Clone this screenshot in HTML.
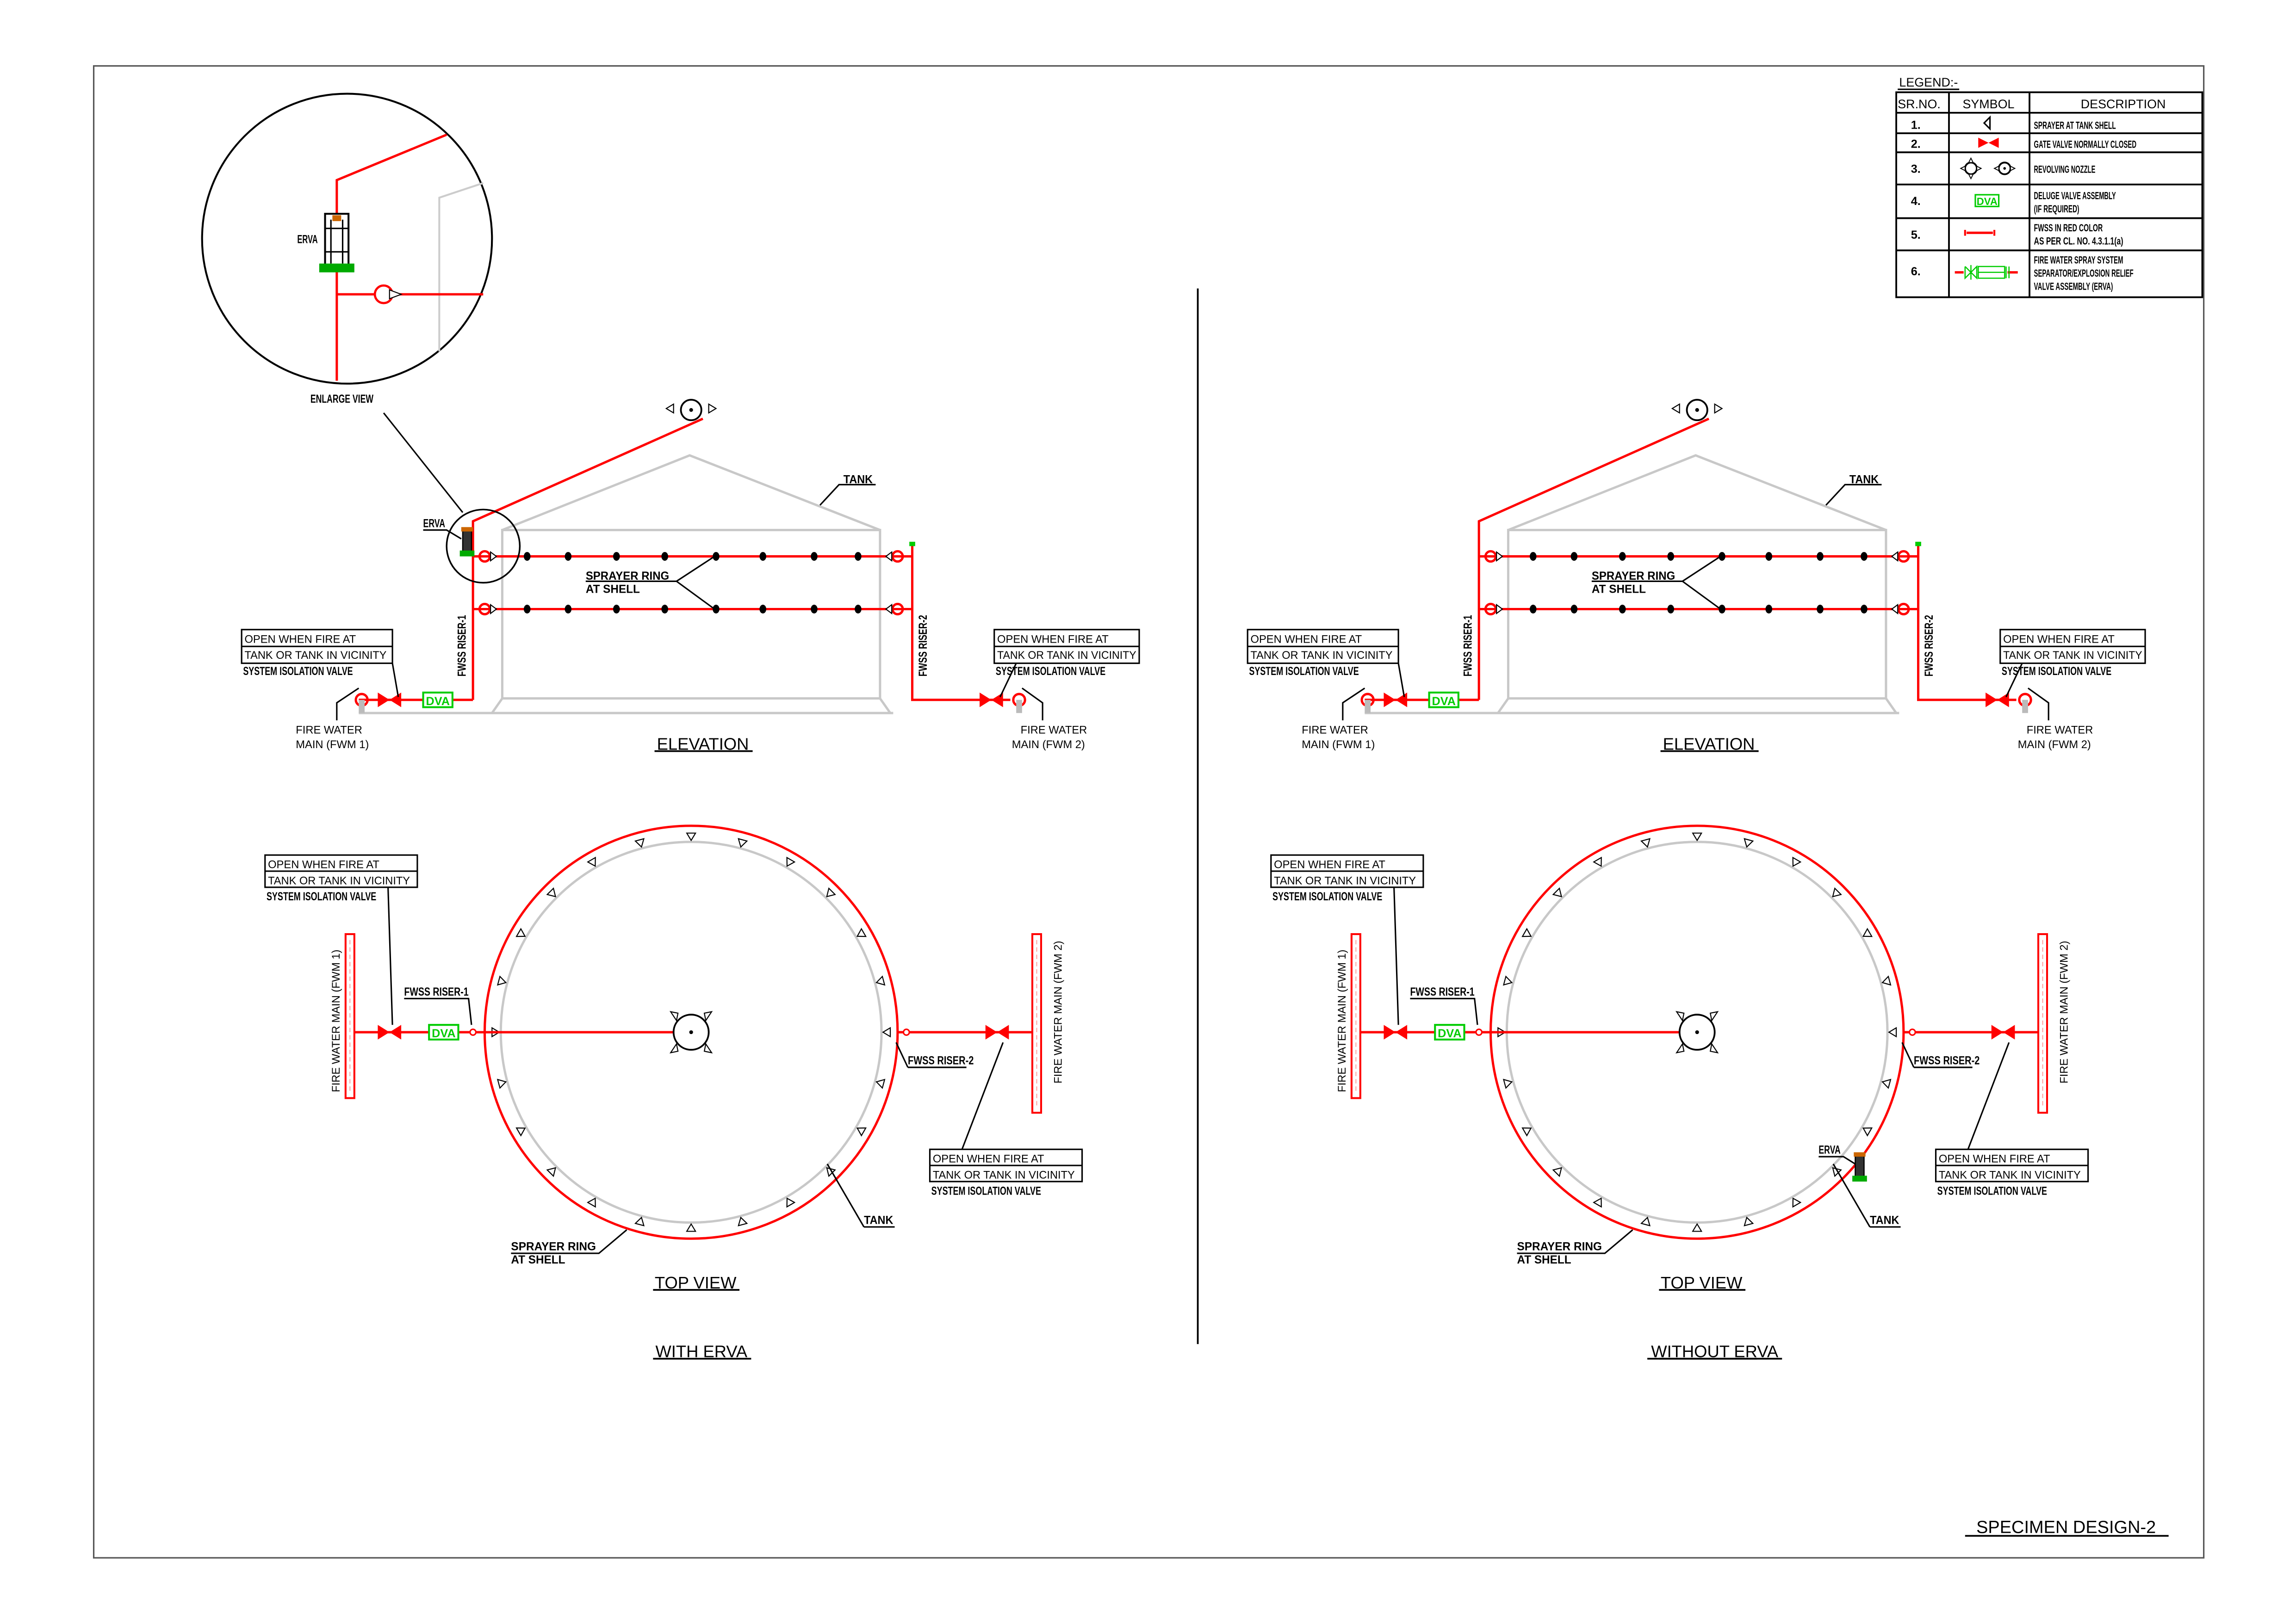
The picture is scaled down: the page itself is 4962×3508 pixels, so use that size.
<!DOCTYPE html>
<html><head><meta charset="utf-8"><style>
html,body{margin:0;padding:0;background:#fff}
svg{display:block}
text{font-family:"Liberation Sans",sans-serif;fill:#000}
.b{font-weight:bold;font-size:8px}
.n{font-size:7.5px}
.l{font-weight:bold;font-size:7px}
</style></head><body>
<svg width="4962" height="3508" viewBox="0 0 1568 1108.5" xmlns="http://www.w3.org/2000/svg">
<defs>
<g id="valve"><path d="M-8,-5 L8,5 L8,-5 L-8,5 Z" fill="#f00"/></g>
<g id="dva"><rect x="-10" y="-5" width="20" height="10" fill="#fff" stroke="#0c0" stroke-width="1.3"/><text x="0" y="3.5" text-anchor="middle" style="font-size:8px;fill:#0c0;font-weight:bold">DVA</text></g>
<g id="tri"><path d="M608,702 l-5,3 l5,3 z" fill="#fff" stroke="#000" stroke-width="0.7"/></g>
<g id="erva"><rect x="-3" y="-9" width="6" height="18" fill="#333" stroke="#000" stroke-width="0.8"/><rect x="-4" y="-10" width="8" height="3" fill="#c60"/><rect x="-5" y="6" width="10" height="4" fill="#0a0"/></g>
<g id="elev">
 <g fill="none" stroke="#c8c8c8" stroke-width="1.6">
  <path d="M343,362 L471,311 L601,362"/>
  <rect x="343" y="362" width="258" height="115"/>
  <path d="M343,477 L336,487 M601,477 L608,487 M245,487 L610,487"/>
 </g>
 <g stroke="#f00" stroke-width="1.6" fill="none">
  <path d="M323,380 H623 M323,416 H623"/>
  <path d="M323,478 V356 L480,286"/>
  <path d="M623,372 V478 H690 M245,478 H323"/>
  <circle cx="331" cy="380" r="3.5"/><circle cx="331" cy="416" r="3.5"/>
  <circle cx="613" cy="380" r="3.5"/><circle cx="613" cy="416" r="3.5"/>
  <circle cx="247" cy="478" r="4"/><circle cx="696" cy="478" r="4"/>
 </g>
 <path d="M335,377 l4,3 l-4,3z M335,413 l4,3 l-4,3z M609,377 l-4,3 l4,3z M609,413 l-4,3 l4,3z" fill="#fff" stroke="#000" stroke-width="0.7"/>
 <rect x="245" y="478" width="4" height="9" fill="#bbb"/><rect x="694" y="478" width="4" height="9" fill="#bbb"/>
 <rect x="621" y="370" width="4" height="3" fill="#0c0"/>
 <g fill="#000">
  <ellipse cx="360" cy="380" rx="2.3" ry="3"/><ellipse cx="388" cy="380" rx="2.3" ry="3"/><ellipse cx="421" cy="380" rx="2.3" ry="3"/><ellipse cx="454" cy="380" rx="2.3" ry="3"/><ellipse cx="489" cy="380" rx="2.3" ry="3"/><ellipse cx="521" cy="380" rx="2.3" ry="3"/><ellipse cx="556" cy="380" rx="2.3" ry="3"/><ellipse cx="586" cy="380" rx="2.3" ry="3"/>
  <ellipse cx="360" cy="416" rx="2.3" ry="3"/><ellipse cx="388" cy="416" rx="2.3" ry="3"/><ellipse cx="421" cy="416" rx="2.3" ry="3"/><ellipse cx="454" cy="416" rx="2.3" ry="3"/><ellipse cx="489" cy="416" rx="2.3" ry="3"/><ellipse cx="521" cy="416" rx="2.3" ry="3"/><ellipse cx="556" cy="416" rx="2.3" ry="3"/><ellipse cx="586" cy="416" rx="2.3" ry="3"/>
 </g>
 <use href="#valve" x="266" y="478"/><use href="#valve" x="677" y="478"/><use href="#dva" x="299" y="478"/>
 <circle cx="472" cy="280" r="7" fill="#fff" stroke="#000" stroke-width="1.2"/><circle cx="472" cy="280" r="1.3"/>
 <path d="M455,279 l5,-3 v6z M489,279 l-5,-3 v6z" fill="#fff" stroke="#000" stroke-width="0.7"/>
 <g fill="none" stroke="#000" stroke-width="1">
  <rect x="165" y="430" width="103" height="23"/><path d="M165,441.5 H268"/>
  <rect x="679" y="430" width="99" height="23"/><path d="M679,441.5 H778"/>
  <path d="M268,453 L272,476 M694,453 L683,476"/>
  <path d="M230,492 V480 L245,470 M712,492 V480 L698,470"/>
  <path d="M560,345 L573,331 H598"/>
  <path d="M400,397 H462 L488,380 M462,397 L488,416"/>
  <path d="M447,513 H514" stroke-width="1.2"/>
 </g>
</g>
<g id="top">
 <circle cx="472" cy="705" r="130" fill="none" stroke="#c8c8c8" stroke-width="1.6"/>
 <circle cx="472" cy="705" r="141" fill="none" stroke="#f00" stroke-width="1.6"/>
 <use href="#tri" transform="rotate(0 472 705)"/><use href="#tri" transform="rotate(15 472 705)"/><use href="#tri" transform="rotate(30 472 705)"/><use href="#tri" transform="rotate(45 472 705)"/><use href="#tri" transform="rotate(60 472 705)"/><use href="#tri" transform="rotate(75 472 705)"/><use href="#tri" transform="rotate(90 472 705)"/><use href="#tri" transform="rotate(105 472 705)"/><use href="#tri" transform="rotate(120 472 705)"/><use href="#tri" transform="rotate(135 472 705)"/><use href="#tri" transform="rotate(150 472 705)"/><use href="#tri" transform="rotate(165 472 705)"/><use href="#tri" transform="rotate(180 472 705)"/><use href="#tri" transform="rotate(195 472 705)"/><use href="#tri" transform="rotate(210 472 705)"/><use href="#tri" transform="rotate(225 472 705)"/><use href="#tri" transform="rotate(240 472 705)"/><use href="#tri" transform="rotate(255 472 705)"/><use href="#tri" transform="rotate(270 472 705)"/><use href="#tri" transform="rotate(285 472 705)"/><use href="#tri" transform="rotate(300 472 705)"/><use href="#tri" transform="rotate(315 472 705)"/><use href="#tri" transform="rotate(330 472 705)"/><use href="#tri" transform="rotate(345 472 705)"/>
 <path d="M239,705 H472 M613,705 H708" stroke="#f00" stroke-width="1.6"/>
 <circle cx="323" cy="705" r="2" fill="#fff" stroke="#f00"/><circle cx="619" cy="705" r="2" fill="#fff" stroke="#f00"/>
 <rect x="236" y="638" width="6" height="112" fill="#fff" stroke="#f00" stroke-width="1.3"/>
 <rect x="705" y="638" width="6" height="122" fill="#fff" stroke="#f00" stroke-width="1.3"/>
 <path d="M239,642 V746 M708,642 V756" stroke="#f99" stroke-width="0.6" stroke-dasharray="3,2"/>
 <use href="#valve" x="266" y="705"/><use href="#valve" x="681" y="705"/><use href="#dva" x="303" y="705"/>
 <circle cx="472" cy="705" r="12" fill="#fff" stroke="#000" stroke-width="1.2"/><circle cx="472" cy="705" r="1.3"/>
 <path d="M458,691 l5,1 l-1,5z M486,691 l-5,1 l1,5z M458,719 l5,-1 l-1,-5z M486,719 l-5,-1 l1,-5z" fill="#fff" stroke="#000" stroke-width="0.7"/>
 <g fill="none" stroke="#000" stroke-width="1">
  <rect x="181" y="584" width="104" height="22"/><path d="M181,595 H285"/>
  <rect x="635" y="785" width="104" height="22"/><path d="M635,796 H739"/>
  <path d="M265,606 L268,700 M657,785 L685,712"/>
  <path d="M276,682 H320 L322,700 M620,729 H660 M620,729 L612,712"/>
  <path d="M349,856 H409 L428,840 M590,838 H611 M590,838 L565,795"/>
  <path d="M446,881 H505 M446,928 H513" stroke-width="1.2"/>
 </g>
</g>
</defs>

<rect x="64" y="45" width="1441" height="1019" fill="none" stroke="#555" stroke-width="1"/>
<path d="M818,197 V918" stroke="#000" stroke-width="1.2"/>

<!-- LEFT -->
<use href="#elev"/>
<use href="#top"/>
<use href="#erva" x="319" y="370"/>
<circle cx="330" cy="373" r="25" fill="none" stroke="#000" stroke-width="1.1"/>
<path d="M262,282 L316,350" stroke="#000" stroke-width="1"/>
<path d="M289,362 H305 L315,368" fill="none" stroke="#000" stroke-width="1"/>
<g>
 <circle cx="237" cy="163" r="99" fill="#fff" stroke="#000" stroke-width="1.3"/>
 <path d="M300,240 V135 L330,125" fill="none" stroke="#ccc" stroke-width="1.3"/>
 <path d="M230,260 V123 L305,92 M230,201 H330" fill="none" stroke="#f00" stroke-width="1.6"/>
 <rect x="222" y="146" width="16" height="38" fill="#fff" stroke="#000" stroke-width="1.3"/>
 <path d="M226,150 V180 M234,150 V180 M222,156 H238 M222,172 H238" stroke="#000" stroke-width="1"/>
 <rect x="227" y="147" width="6" height="4" fill="#c60"/>
 <rect x="218" y="180" width="24" height="6" fill="#0a0"/>
 <circle cx="262" cy="201" r="6" fill="#fff" stroke="#f00" stroke-width="1.5"/>
 <path d="M266,198 l8,3 l-8,3z" fill="#fff" stroke="#000" stroke-width="0.7"/>
</g>
<text x="203" y="166" class="b" textLength="14" lengthAdjust="spacingAndGlyphs">ERVA</text>
<text x="212" y="275" class="b" textLength="43" lengthAdjust="spacingAndGlyphs">ENLARGE VIEW</text>
<text x="289" y="360" class="b" textLength="15" lengthAdjust="spacingAndGlyphs">ERVA</text>

<text x="576" y="330" class="b" textLength="20" lengthAdjust="spacingAndGlyphs">TANK</text>
<text x="400" y="396" class="b" textLength="57" lengthAdjust="spacingAndGlyphs">SPRAYER  RING</text>
<text x="400" y="405" class="b" textLength="37" lengthAdjust="spacingAndGlyphs">AT  SHELL</text>
<text x="167" y="439" class="n">OPEN WHEN FIRE AT</text>
<text x="167" y="450" class="n" textLength="97" lengthAdjust="spacingAndGlyphs">TANK OR TANK IN VICINITY</text>
<text x="166" y="461" class="b" textLength="75" lengthAdjust="spacingAndGlyphs">SYSTEM  ISOLATION  VALVE</text>
<text x="681" y="439" class="n">OPEN WHEN FIRE AT</text>
<text x="681" y="450" class="n" textLength="95" lengthAdjust="spacingAndGlyphs">TANK OR TANK IN VICINITY</text>
<text x="680" y="461" class="b" textLength="75" lengthAdjust="spacingAndGlyphs">SYSTEM  ISOLATION  VALVE</text>
<text x="202" y="501" class="n">FIRE WATER</text>
<text x="202" y="511" class="n">MAIN  (FWM 1)</text>
<text x="697" y="501" class="n">FIRE WATER</text>
<text x="691" y="511" class="n">MAIN  (FWM 2)</text>
<text transform="translate(318,462) rotate(-90)" class="b" textLength="42" lengthAdjust="spacingAndGlyphs">FWSS  RISER-1</text>
<text transform="translate(633,462) rotate(-90)" class="b" textLength="42" lengthAdjust="spacingAndGlyphs">FWSS  RISER-2</text>
<text x="480" y="512" text-anchor="middle" style="font-size:11.5px">ELEVATION</text>
<text x="183" y="593" class="n">OPEN WHEN FIRE AT</text>
<text x="183" y="604" class="n" textLength="97" lengthAdjust="spacingAndGlyphs">TANK OR TANK IN VICINITY</text>
<text x="182" y="615" class="b" textLength="75" lengthAdjust="spacingAndGlyphs">SYSTEM  ISOLATION  VALVE</text>
<text x="637" y="794" class="n">OPEN WHEN FIRE AT</text>
<text x="637" y="805" class="n" textLength="97" lengthAdjust="spacingAndGlyphs">TANK OR TANK IN VICINITY</text>
<text x="636" y="816" class="b" textLength="75" lengthAdjust="spacingAndGlyphs">SYSTEM  ISOLATION  VALVE</text>
<text x="276" y="680" class="b" textLength="44" lengthAdjust="spacingAndGlyphs">FWSS  RISER-1</text>
<text x="620" y="727" class="b" textLength="45" lengthAdjust="spacingAndGlyphs">FWSS  RISER-2</text>
<text x="349" y="854" class="b" textLength="58" lengthAdjust="spacingAndGlyphs">SPRAYER  RING</text>
<text x="349" y="863" class="b" textLength="37" lengthAdjust="spacingAndGlyphs">AT  SHELL</text>
<text x="590" y="836" class="b" textLength="20" lengthAdjust="spacingAndGlyphs">TANK</text>
<text transform="translate(232,746) rotate(-90)" class="n">FIRE WATER MAIN  (FWM 1)</text>
<text transform="translate(725,740) rotate(-90)" class="n">FIRE WATER MAIN  (FWM 2)</text>
<text x="475" y="880" text-anchor="middle" style="font-size:11.5px">TOP VIEW</text>
<text x="479" y="927" text-anchor="middle" style="font-size:11.5px">WITH ERVA</text>

<!-- RIGHT -->
<g transform="translate(687,0)">
<use href="#elev"/>
<use href="#top"/>
<use href="#erva" x="583" y="797"/>
<path d="M555,790 H572 L580,795" fill="none" stroke="#000" stroke-width="1"/>
<text x="555" y="788" class="b" textLength="15" lengthAdjust="spacingAndGlyphs">ERVA</text>
<text x="576" y="330" class="b" textLength="20" lengthAdjust="spacingAndGlyphs">TANK</text>
<text x="400" y="396" class="b" textLength="57" lengthAdjust="spacingAndGlyphs">SPRAYER  RING</text>
<text x="400" y="405" class="b" textLength="37" lengthAdjust="spacingAndGlyphs">AT  SHELL</text>
<text x="167" y="439" class="n">OPEN WHEN FIRE AT</text>
<text x="167" y="450" class="n" textLength="97" lengthAdjust="spacingAndGlyphs">TANK OR TANK IN VICINITY</text>
<text x="166" y="461" class="b" textLength="75" lengthAdjust="spacingAndGlyphs">SYSTEM  ISOLATION  VALVE</text>
<text x="681" y="439" class="n">OPEN WHEN FIRE AT</text>
<text x="681" y="450" class="n" textLength="95" lengthAdjust="spacingAndGlyphs">TANK OR TANK IN VICINITY</text>
<text x="680" y="461" class="b" textLength="75" lengthAdjust="spacingAndGlyphs">SYSTEM  ISOLATION  VALVE</text>
<text x="202" y="501" class="n">FIRE WATER</text>
<text x="202" y="511" class="n">MAIN  (FWM 1)</text>
<text x="697" y="501" class="n">FIRE WATER</text>
<text x="691" y="511" class="n">MAIN  (FWM 2)</text>
<text transform="translate(318,462) rotate(-90)" class="b" textLength="42" lengthAdjust="spacingAndGlyphs">FWSS  RISER-1</text>
<text transform="translate(633,462) rotate(-90)" class="b" textLength="42" lengthAdjust="spacingAndGlyphs">FWSS  RISER-2</text>
<text x="480" y="512" text-anchor="middle" style="font-size:11.5px">ELEVATION</text>
<text x="183" y="593" class="n">OPEN WHEN FIRE AT</text>
<text x="183" y="604" class="n" textLength="97" lengthAdjust="spacingAndGlyphs">TANK OR TANK IN VICINITY</text>
<text x="182" y="615" class="b" textLength="75" lengthAdjust="spacingAndGlyphs">SYSTEM  ISOLATION  VALVE</text>
<text x="637" y="794" class="n">OPEN WHEN FIRE AT</text>
<text x="637" y="805" class="n" textLength="97" lengthAdjust="spacingAndGlyphs">TANK OR TANK IN VICINITY</text>
<text x="636" y="816" class="b" textLength="75" lengthAdjust="spacingAndGlyphs">SYSTEM  ISOLATION  VALVE</text>
<text x="276" y="680" class="b" textLength="44" lengthAdjust="spacingAndGlyphs">FWSS  RISER-1</text>
<text x="620" y="727" class="b" textLength="45" lengthAdjust="spacingAndGlyphs">FWSS  RISER-2</text>
<text x="349" y="854" class="b" textLength="58" lengthAdjust="spacingAndGlyphs">SPRAYER  RING</text>
<text x="349" y="863" class="b" textLength="37" lengthAdjust="spacingAndGlyphs">AT  SHELL</text>
<text x="590" y="836" class="b" textLength="20" lengthAdjust="spacingAndGlyphs">TANK</text>
<text transform="translate(232,746) rotate(-90)" class="n">FIRE WATER MAIN  (FWM 1)</text>
<text transform="translate(725,740) rotate(-90)" class="n">FIRE WATER MAIN  (FWM 2)</text>
<text x="475" y="880" text-anchor="middle" style="font-size:11.5px">TOP VIEW</text>
</g>
<text x="1171" y="927" text-anchor="middle" style="font-size:11.5px">WITHOUT ERVA</text>
<path d="M1125,928 H1217" stroke="#000" stroke-width="1.2"/>

<!-- LEGEND -->
<text x="1297" y="59" style="font-size:8.5px">LEGEND:-</text>
<path d="M1296,61 H1338" stroke="#000" stroke-width="1"/>
<g fill="none" stroke="#000" stroke-width="1.2">
 <rect x="1295" y="63" width="209" height="140"/>
 <path d="M1331,63 V203 M1386,63 V203 M1295,77 H1504 M1295,91 H1504 M1295,104 H1504 M1295,126 H1504 M1295,149 H1504 M1295,171 H1504"/>
</g>
<text x="1296" y="74" style="font-size:8.5px">SR.NO.</text>
<text x="1358" y="74" text-anchor="middle" style="font-size:8.5px">SYMBOL</text>
<text x="1450" y="74" text-anchor="middle" style="font-size:8.5px">DESCRIPTION</text>
<text x="1305" y="88" class="b">1.</text>
<text x="1305" y="101" class="b">2.</text>
<text x="1305" y="118" class="b">3.</text>
<text x="1305" y="140" class="b">4.</text>
<text x="1305" y="163" class="b">5.</text>
<text x="1305" y="188" class="b">6.</text>
<text x="1389" y="88" class="l" textLength="56" lengthAdjust="spacingAndGlyphs">SPRAYER AT TANK SHELL</text>
<text x="1389" y="101" class="l" textLength="70" lengthAdjust="spacingAndGlyphs">GATE VALVE NORMALLY CLOSED</text>
<text x="1389" y="118" class="l" textLength="42" lengthAdjust="spacingAndGlyphs">REVOLVING NOZZLE</text>
<text x="1389" y="136" class="l" textLength="56" lengthAdjust="spacingAndGlyphs">DELUGE VALVE ASSEMBLY</text>
<text x="1389" y="145" class="l" textLength="31" lengthAdjust="spacingAndGlyphs">(IF REQUIRED)</text>
<text x="1389" y="158" class="l" textLength="47" lengthAdjust="spacingAndGlyphs">FWSS IN RED COLOR</text>
<text x="1389" y="167" class="l" textLength="61" lengthAdjust="spacingAndGlyphs">AS PER CL. NO. 4.3.1.1(a)</text>
<text x="1389" y="180" class="l" textLength="61" lengthAdjust="spacingAndGlyphs">FIRE WATER SPRAY SYSTEM</text>
<text x="1389" y="189" class="l" textLength="68" lengthAdjust="spacingAndGlyphs">SEPARATOR/EXPLOSION RELIEF</text>
<text x="1389" y="198" class="l" textLength="54" lengthAdjust="spacingAndGlyphs">VALVE ASSEMBLY (ERVA)</text>
<path d="M1359,80 l-4,4 l4,4z" fill="#fff" stroke="#000" stroke-width="1"/>
<path d="M1351,94 L1365,101 V94 L1351,101 Z" fill="#f00"/>
<circle cx="1346" cy="115" r="4" fill="#fff" stroke="#000" stroke-width="1.2"/>
<path d="M1339,115 l3,-1.5 v3z M1353,115 l-3,-1.5 v3z M1346,108 l-1.5,3 h3z M1346,122 l-1.5,-3 h3z" fill="#fff" stroke="#000" stroke-width="0.6"/>
<circle cx="1369" cy="115" r="4" fill="#fff" stroke="#000" stroke-width="1.2"/><circle cx="1369" cy="115" r="0.9"/>
<path d="M1362,115 l3,-1.5 v3z M1376,115 l-3,-1.5 v3z" fill="#fff" stroke="#000" stroke-width="0.6"/>
<rect x="1349" y="133" width="16" height="8" fill="#fff" stroke="#0c0" stroke-width="1"/>
<text x="1357" y="140" text-anchor="middle" style="font-size:7px;fill:#0c0;font-weight:bold">DVA</text>
<path d="M1343,159 H1361" stroke="#f00" stroke-width="1.6"/>
<path d="M1342,157 v4 M1362,157 v4" stroke="#f00" stroke-width="1.3"/>
<path d="M1335,186 H1341 M1371,186 H1378" stroke="#f00" stroke-width="1.6"/>
<g fill="none" stroke="#0c0" stroke-width="0.8">
 <path d="M1342,182 V190 L1350,182 V190 L1342,182 M1346,181 V191"/>
 <rect x="1351" y="182" width="18" height="8"/><path d="M1351,186 H1369 M1370,182 V190 M1372,182 V190"/>
</g>

<text x="1411" y="1047" text-anchor="middle" style="font-size:12px">SPECIMEN DESIGN-2</text>
<path d="M1342,1049 H1481" stroke="#000" stroke-width="1.2"/>
</svg>
</body></html>
